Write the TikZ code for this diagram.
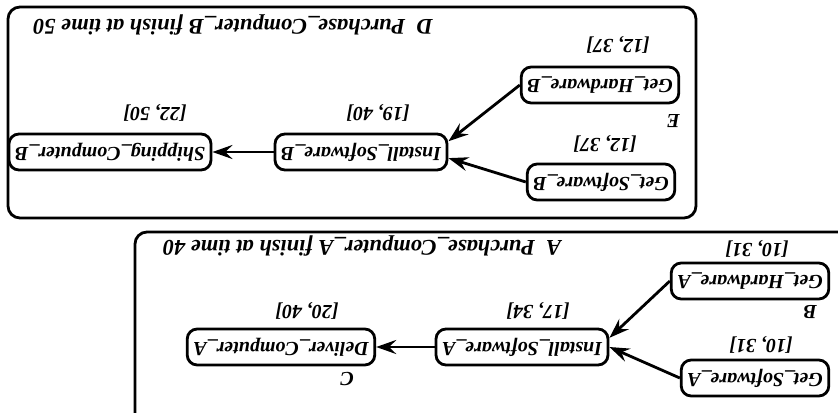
\documentclass[tikz,border=0pt]{standalone}
\usepackage{fontspec}
\setmainfont{Liberation Serif}
\usetikzlibrary{positioning,arrows.meta}

\tikzset{
  task/.style={draw, rounded corners=5pt, line width=1.4pt, inner xsep=3pt,
    minimum height=18pt, font=\bfseries\itshape},
  span/.style={font=\bfseries\itshape, inner sep=0pt},
  tag/.style={font=\bfseries\itshape, inner sep=0pt},
  caption/.style={font=\fontsize{11.2}{13}\selectfont\bfseries\itshape, inner sep=0pt},
  dep/.style={-{Stealth[length=10pt,width=7pt,inset=3.5pt]}, line width=1.4pt},
  group/.style={draw, rounded corners=6pt, line width=1.4pt}
}

\begin{document}
\begin{tikzpicture}[x=0.5pt, y=0.5pt, rotate=180, transform shape]
  \useasboundingbox (0,0) rectangle (838,412);
  \clip (0,0) rectangle (838,412);

  % computer A
  \draw[group] (-20,232) rectangle (703,440);
  \node (gsa) [task] at (83,378) {Get\_Software\_A};
  \node (gha) [task] at (88,281) {Get\_Hardware\_A};
  \node (isa) [task] at (316,347) {Install\_Software\_A};
  \node (dca) [task] at (557,347) {Deliver\_Computer\_A};
  \node (gsaT) [span, below=2.5pt of gsa, xshift=-3pt] {[10, 31]};
  \node (ghaT) [span, below=2pt of gha, xshift=-3.5pt] {[10, 31]};
  \node (isaT) [span, below=4pt of isa, xshift=-8pt] {[17, 34]};
  \node (dcaT) [span, below=4pt of dca, xshift=-13pt] {[20, 40]};
  \node (ltrB) [tag, above right=2.5pt and 6.5pt of gha.north west] {B};
  \node (ltrC) [tag, above right=2.5pt and 11pt of dca.north west] {C};
  \node (titleA) [caption] at (476,246) {A\enspace Purchase\_Computer\_A finish at time 40};

  \draw [dep] (gsa.east) -- (isa.west);
  \draw [dep] (gha.east) -- (isa.186);
  \draw [dep] (isa) -- (dca);

  % computer B
  \draw[group] (142,7) rectangle (830,218);
  \node (gsb) [task] at (237,182) {Get\_Software\_B};
  \node (ghb) [task] at (238,85) {Get\_Hardware\_B};
  \node (isb) [task] at (477,152) {Install\_Software\_B};
  \node (scb) [task] at (728,152) {Shipping\_Computer\_B};
  \node (gsbT) [span, below=5pt of gsb, xshift=-2pt] {[12, 37]};
  \node (ghbT) [span, below=6pt of ghb, xshift=-9pt] {[12, 37]};
  \node (isbT) [span, below=5.5pt of isb, xshift=-8.5pt] {[19, 40]};
  \node (scbT) [span, below=5.5pt of scb, xshift=-22.5pt] {[22, 50]};
  \node (ltrE) [tag, above right=5pt and 0pt of ghb.north west] {E};
  \node (titleD) [caption] at (605,25) {D\enspace Purchase\_Computer\_B finish at time 50};

  \draw [dep] (gsb.east) -- (isb.176);
  \draw [dep] (ghb.east) -- (isb.187);
  \draw [dep] (isb) -- (scb);
\end{tikzpicture}
\end{document}
